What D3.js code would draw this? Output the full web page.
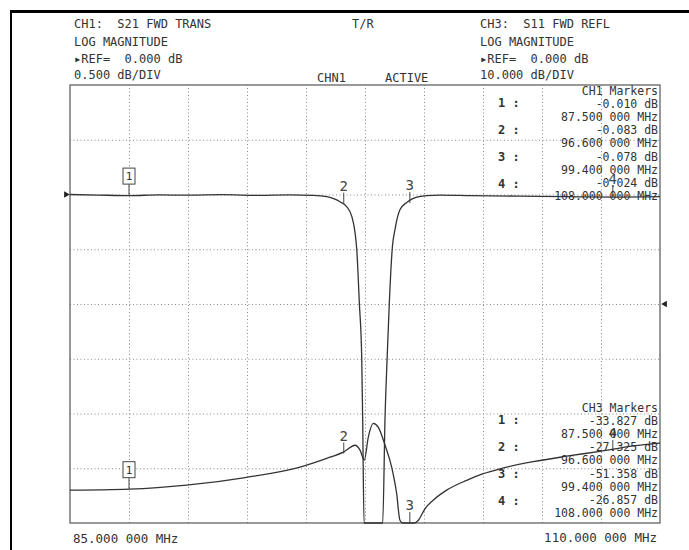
<!DOCTYPE html>
<html>
<head>
<meta charset="utf-8">
<script src="https://cdn.jsdelivr.net/npm/d3@7"></script>
<style>
    body { margin: 0; background: #fff; }
    text { font-family: "DejaVu Sans Mono", "Liberation Mono", monospace; fill: #333; white-space: pre; }
</style>
</head>
<body>
<script>
// CH1 - S21 transmission, log mag, 0.5 dB/div
const ch1Freq = [85.0, 86.2, 87.5, 88.8, 90.0, 91.5, 93.0, 94.3, 95.3, 95.88, 96.2, 96.44, 96.72, 96.94, 97.08, 97.15,
    97.26, 97.36, 97.40, 97.46, 97.6, 97.85, 98.1, 98.25, 98.35, 98.44, 98.53, 98.66, 98.77, 98.98, 99.27, 99.55,
    100.11, 100.68, 102.0, 104.0, 106.0, 108.0, 110.0];
const ch1Db = [0.0, -0.005, -0.010, -0.004, -0.006, -0.002, -0.008, -0.004, -0.008, -0.02, -0.04, -0.066, -0.11, -0.20, -0.35, -0.50,
    -0.99, -1.48, -2.03, -3.1, -8.0, -20.0, -8.0, -3.1, -2.03, -1.48, -0.99, -0.48, -0.32, -0.14, -0.072, -0.035,
    -0.01, -0.005, -0.01, -0.015, -0.02, -0.024, -0.02];

// CH3 - S11 reflection, log mag, 10 dB/div
const ch3Freq = [85.0, 86.3, 87.5, 88.7, 89.94, 92.42, 94.89, 95.88, 96.6, 97.08, 97.29, 97.47, 97.64, 97.85, 98.06,
    98.35, 98.63, 98.84, 98.98, 99.1, 99.4, 99.6, 99.76, 100.04, 100.40, 100.96, 101.81, 102.51, 103.22, 104.63,
    106.04, 107.46, 108.87, 110.0];
const ch3Db = [-34.0, -33.95, -33.83, -33.55, -33.1, -31.7, -29.6, -28.2, -27.0, -25.8, -26.7, -28.5, -24.3, -21.8, -22.5,
    -25.8, -29.8, -34.6, -39.5, -44.0, -51.4, -44.0, -39.5, -37.4, -35.8, -34.0, -32.2, -31.0, -30.1, -28.8,
    -27.8, -26.9, -25.9, -25.4];

// marker readouts
const markerNames = ["1", "2", "3", "4"];
const markerFreq = [87.5, 96.6, 99.4, 108.0];
const ch1MarkerDb = [-0.010, -0.083, -0.078, -0.024];
const ch3MarkerDb = [-33.827, -27.325, -51.358, -26.857];
const markerFreqText = ["87.500 000 MHz", "96.600 000 MHz", "99.400 000 MHz", "108.000 000 MHz"];

const ch1Header = ["CH1:  S21 FWD TRANS", "LOG MAGNITUDE", "\u25B8REF=  0.000 dB", "0.500 dB/DIV"];
const ch3Header = ["CH3:  S11 FWD REFL", "LOG MAGNITUDE", "\u25B8REF=  0.000 dB", "10.000 dB/DIV"];
const startLabel = "85.000 000 MHz";
const stopLabel = "110.000 000 MHz";

let W = 689, H = 550;
let box = {left: 70, right: 660, top: 85, bottom: 523};

let svg = d3.select("body").append("svg")
    .attr("width", W).attr("height", H);

// scanned frame
svg.append("line").attr("x1", 10).attr("x2", W).attr("y1", 11.5).attr("y2", 11.5)
    .attr("stroke", "#000").attr("stroke-width", 3);
svg.append("line").attr("x1", 11).attr("x2", 11).attr("y1", 10).attr("y2", H)
    .attr("stroke", "#000").attr("stroke-width", 2);

let x = d3.scaleLinear().domain([85, 110]).range([box.left, box.right]);
let y1 = d3.scaleLinear().domain([-3, 1]).range([box.bottom, box.top]).clamp(true);
let y3 = d3.scaleLinear().domain([-40, 40]).range([box.bottom, box.top]).clamp(true);

// grid
let gx = svg.append("g").attr("transform", "translate(0," + box.bottom + ")")
    .call(d3.axisBottom(x).tickValues(d3.range(87.5, 110, 2.5)).tickSize(-(box.bottom - box.top)).tickFormat(""));
let gy = svg.append("g").attr("transform", "translate(" + box.left + ",0)")
    .call(d3.axisLeft(y1).tickValues(d3.range(-2.5, 1, 0.5)).tickSize(-(box.right - box.left)).tickFormat(""));
[gx, gy].forEach(function (g) {
    g.select(".domain").remove();
    g.selectAll(".tick line").attr("stroke", "#888").attr("stroke-dasharray", "1,2.5");
});

svg.append("rect")
    .attr("x", box.left).attr("y", box.top)
    .attr("width", box.right - box.left).attr("height", box.bottom - box.top)
    .attr("fill", "none").attr("stroke", "#555").attr("stroke-width", 1.2);

// reference position arrows
svg.append("path").attr("d", d3.symbol().type(d3.symbolTriangle).size(18))
    .attr("transform", "translate(" + (box.left - 4) + "," + y1(0) + ") rotate(90)").attr("fill", "#222");
svg.append("path").attr("d", d3.symbol().type(d3.symbolTriangle).size(18))
    .attr("transform", "translate(" + (box.right + 5) + "," + y3(0) + ") rotate(-90)").attr("fill", "#222");

// header text
let hdrY = [28, 46, 63, 79];
svg.selectAll(".h1").data(ch1Header).enter().append("text")
    .attr("x", 74).attr("y", function (d, i) { return hdrY[i]; })
    .style("font-size", "12px").text(function (d) { return d; });
svg.selectAll(".h3").data(ch3Header).enter().append("text")
    .attr("x", 480).attr("y", function (d, i) { return hdrY[i]; })
    .style("font-size", "12px").text(function (d) { return d; });
svg.append("text").attr("x", 352).attr("y", 28).style("font-size", "12px").text("T/R");
svg.append("text").attr("x", 317).attr("y", 82).style("font-size", "12px").text("CHN1");
svg.append("text").attr("x", 385).attr("y", 82).style("font-size", "12px").text("ACTIVE");

svg.append("text").attr("x", 73).attr("y", 543).style("font-size", "12.5px").text(startLabel);
svg.append("text").attr("x", 657).attr("y", 542).attr("text-anchor", "end").style("font-size", "12.5px").text(stopLabel);

// traces
let line1 = d3.line().x(function (d) { return x(d[0]); }).y(function (d) { return y1(d[1]); }).curve(d3.curveMonotoneX);
let line3 = d3.line().x(function (d) { return x(d[0]); }).y(function (d) { return y3(d[1]); }).curve(d3.curveMonotoneX);

svg.append("path").datum(d3.zip(ch1Freq, ch1Db)).attr("d", line1)
    .attr("fill", "none").attr("stroke", "#333").attr("stroke-width", 1.3);
svg.append("path").datum(d3.zip(ch3Freq, ch3Db)).attr("d", line3)
    .attr("fill", "none").attr("stroke", "#333").attr("stroke-width", 1.3);

// markers on the traces
function drawMarkers(yScale, values) {
    markerNames.forEach(function (name, i) {
        let px = x(markerFreq[i]), py = yScale(values[i]);
        let g = svg.append("g").attr("class", "marker");
        if (i === 0) {
            g.append("rect").attr("x", px - 6).attr("y", py - 27.5).attr("width", 12).attr("height", 16)
                .attr("fill", "#fff").attr("stroke", "#444");
            g.append("text").attr("x", px).attr("y", py - 15.5).attr("text-anchor", "middle")
                .style("font-size", "11px").text(name);
            g.append("line").attr("x1", px).attr("x2", px).attr("y1", py - 11.5).attr("y2", py).attr("stroke", "#444");
        } else {
            g.append("text").attr("x", px).attr("y", py - 13).attr("text-anchor", "middle")
                .style("font-size", "14px").style("fill", "#444").text(name);
            g.append("line").attr("x1", px).attr("x2", px).attr("y1", py - 11).attr("y2", py).attr("stroke", "#444");
        }
    });
}
drawMarkers(y1, ch1MarkerDb);
drawMarkers(y3, ch3MarkerDb);

// marker readout blocks
function readout(title, values, top) {
    let lines = [title];
    values.forEach(function (v, i) {
        lines.push(v.toFixed(3) + " dB");
        lines.push(markerFreqText[i]);
    });
    svg.selectAll(null).data(lines).enter().append("text")
        .attr("x", 658).attr("y", function (d, i) { return top + i * 13.1; })
        .attr("text-anchor", "end").style("font-size", "11.5px")
        .text(function (d) { return d; });
    markerNames.forEach(function (name, i) {
        svg.append("text").attr("x", 498).attr("y", top + 12 + i * 27)
            .style("font-size", "12px").style("font-weight", "bold").text(name + " :");
    });
}
readout("CH1 Markers", ch1MarkerDb, 95);
readout("CH3 Markers", ch3MarkerDb, 412);
</script>
</body>
</html>
